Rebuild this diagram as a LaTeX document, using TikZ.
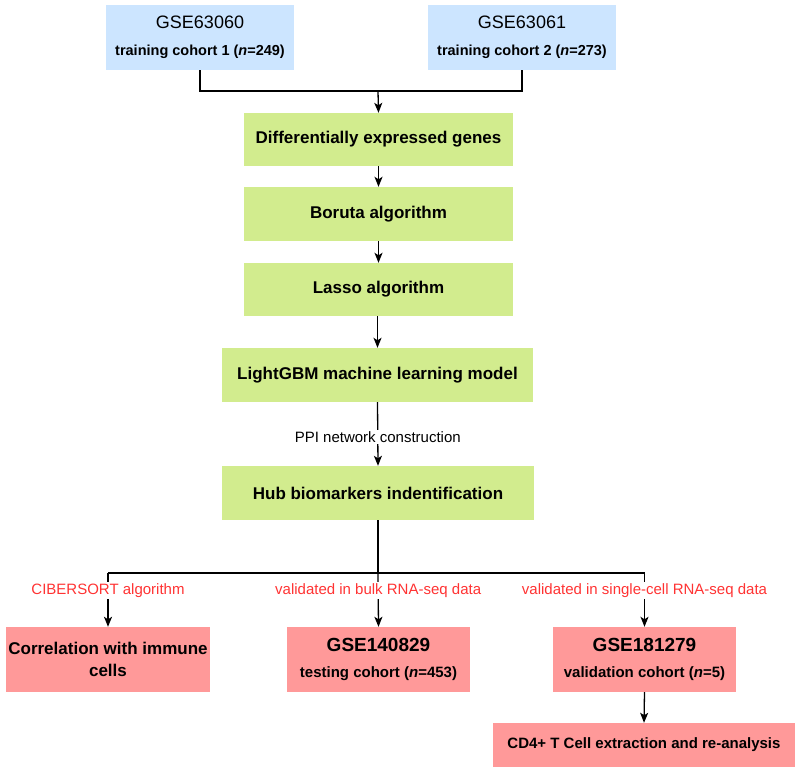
\documentclass[tikz,border=0pt]{standalone}
\usepackage{fontspec}
\setmainfont{Liberation Sans}
\usetikzlibrary{arrows.meta}
\definecolor{bluebox}{RGB}{204,229,255}
\definecolor{greenbox}{RGB}{210,236,142}
\definecolor{redbox}{RGB}{255,153,153}
\definecolor{redtext}{RGB}{255,51,51}
\tikzset{
  box/.style={inner sep=0pt, align=center, anchor=center},
  bluebx/.style={box, fill=bluebox, minimum width=188pt, minimum height=65pt, font=\fontsize{18}{26}\selectfont},
  greenbx/.style={box, fill=greenbox, minimum height=54pt, font=\fontsize{17}{20}\selectfont\bfseries},
  redbx/.style={box, fill=redbox, minimum height=65pt, font=\fontsize{19}{26}\selectfont\bfseries},
  conn/.style={line width=1.3pt, -{Stealth[length=10pt,width=8pt,inset=2.5pt]}},
  plainline/.style={line width=1.3pt},
  lbl/.style={fill=white, inner sep=1.5pt, font=\fontsize{15}{18}\selectfont}
}
\newcommand{\subtxt}[1]{{\fontsize{15}{18}\selectfont #1}}
\begin{document}
\begin{tikzpicture}[x=1pt,y=-1pt]
\useasboundingbox (0,0) rectangle (800,773);
% top boxes
\node[bluebx] (t1) at (200,37.5) {GSE63060\\[1pt]{\fontsize{14.5}{18}\selectfont\bfseries training cohort 1 (\textit{n}=249)}};
\node[bluebx] (t2) at (522,37.5) {GSE63061\\[1pt]{\fontsize{14.5}{18}\selectfont\bfseries training cohort 2 (\textit{n}=273)}};
% green boxes
\node[greenbx, minimum width=269pt, minimum height=53pt] (deg) at (378.5,139.5) {Differentially expressed genes};
\node[greenbx, minimum width=269pt] (bor) at (378.5,214) {Boruta algorithm};
\node[greenbx, minimum width=269pt, minimum height=53pt] (las) at (378.5,289.5) {Lasso algorithm};
\node[greenbx, minimum width=311pt] (lgb) at (377.5,375) {LightGBM machine learning model};
\node[greenbx, minimum width=312pt] (hub) at (378,493) {Hub biomarkers indentification};
% red boxes
\node[redbx, minimum width=204pt, font=\fontsize{17}{22}\selectfont\bfseries] (cor) at (108,659.5) {Correlation with immune\\cells};
\node[redbx, minimum width=183pt] (tst) at (378.5,659.5) {GSE140829\\\subtxt{testing cohort (\textit{n}=453)}};
\node[redbx, minimum width=183pt] (val) at (644.5,659.5) {GSE181279\\\subtxt{validation cohort (\textit{n}=5)}};
\node[redbx, minimum width=302pt, minimum height=44pt, font=\fontsize{15}{18}\selectfont\bfseries] (cd4) at (644,745) {CD4+ T Cell extraction and re-analysis};
% connectors
\coordinate (jt) at (378,91);
\draw[plainline] (t1.south) |- (jt) -| (t2.south);
\draw[conn] (jt) -- (deg.north);
\draw[conn] (deg.south) -- (bor.north);
\draw[conn] (bor.south) -- (las.north);
\draw[conn] (las.south -| lgb.north) -- (lgb.north);
\draw[conn] (lgb.south) -- node[lbl, pos=0.55] {PPI network construction} (hub.north);
\coordinate (jb) at (378,573);
\coordinate (jl) at (108,573);
\coordinate (jr) at (644.5,573);
\draw[plainline] (hub.south) -- (jb);
\draw[plainline] (jl) -- (jr);
\draw[conn] (jl) -- node[lbl, text=redtext, pos=0.33] {CIBERSORT algorithm} (cor.north);
\draw[conn] (jb) -- node[lbl, text=redtext, pos=0.33] {validated in bulk RNA-seq data} (tst.north);
\draw[conn] (jr) -- node[lbl, text=redtext, pos=0.33] {validated in single-cell RNA-seq data} (val.north);
\draw[conn] (val.south) -- (cd4.north);
\end{tikzpicture}
\end{document}
